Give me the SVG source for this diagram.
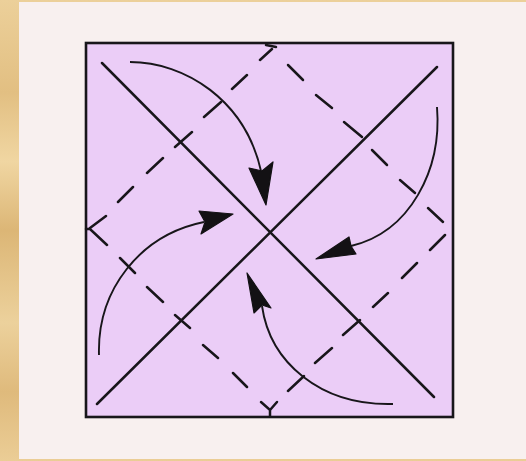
<svg xmlns="http://www.w3.org/2000/svg" width="526" height="461" viewBox="0 0 526 461">
<defs>
<linearGradient id="gold" x1="0" y1="0" x2="0" y2="1">
<stop offset="0" stop-color="#ecd09a"/>
<stop offset="0.2" stop-color="#e2bf82"/>
<stop offset="0.35" stop-color="#f0d6a2"/>
<stop offset="0.5" stop-color="#dcb676"/>
<stop offset="0.7" stop-color="#ecd19c"/>
<stop offset="0.85" stop-color="#dfba7c"/>
<stop offset="1" stop-color="#ebcd96"/>
</linearGradient>
<style>
.solid{stroke:#18161a;stroke-width:2.5;fill:none;stroke-linecap:round}
.dash{stroke:#18161a;stroke-width:2.5;fill:none;stroke-linecap:round}
.arc{stroke:#18161a;stroke-width:1.9;fill:none}
.head{fill:#131114;stroke:#131114;stroke-width:1.2;stroke-linejoin:round}
</style>
</defs>
<rect x="0" y="0" width="526" height="461" fill="url(#gold)"/>
<rect x="19" y="2" width="507" height="457" fill="#f8f0ef"/>
<g id="square">
<rect x="86" y="43" width="367" height="374" fill="#ebcdf7" stroke="#18161a" stroke-width="2.6"/>
</g>
<g id="diagonals">
<line class="solid" x1="102" y1="63" x2="434" y2="397"/>
<line class="solid" x1="437" y1="67" x2="97" y2="404"/>
</g>
<g id="diamond">
<path class="dash" d="M90,228 L106,216 M118,202 L133,187 M147,173 L163,158 M175,147 L192,132 M204,117 L221,102 M232,89 L247,75 M260,60 L272,49"/>
<line class="dash" x1="266" y1="45" x2="276" y2="47"/>
<path class="dash" d="M288,65 L303,80 M316,95 L332,108 M344,122 L362,137 M372,150 L387,165 M400,180 L415,193 M428,208 L443,222"/>
<path class="dash" d="M445,235 L430,250 M417,263 L402,278 M388,293 L373,307 M360,320 L343,335 M332,348 L315,363 M304,376 L288,391"/>
<path class="dash" d="M277,402 L270,410 L261,402 M270,410 L270,416"/>
<path class="dash" d="M247,387 L233,373 M218,358 L203,345 M190,328 L175,315 M163,302 L147,287 M135,273 L120,258 M107,245 L90,229 L86,229"/>
</g>
<g id="connectors">
<path class="arc" d="M130,62 C185,62 245,100 261,171"/>
<polygon class="head" points="249,168 262,171 273,162 266,205"/>
<path class="arc" d="M437,107 C442,170 410,232 351,246"/>
<polygon class="head" points="349,237 351,246 356,254 316,259"/>
<path class="arc" d="M393,404 C320,406 270,362 262,306"/>
<polygon class="head" points="254,313 262,305 271,308 247,273"/>
<path class="arc" d="M99,355 C97,290 140,235 204,222"/>
<polygon class="head" points="199,211 205,222 201,234 233,214"/>
</g>
</svg>
